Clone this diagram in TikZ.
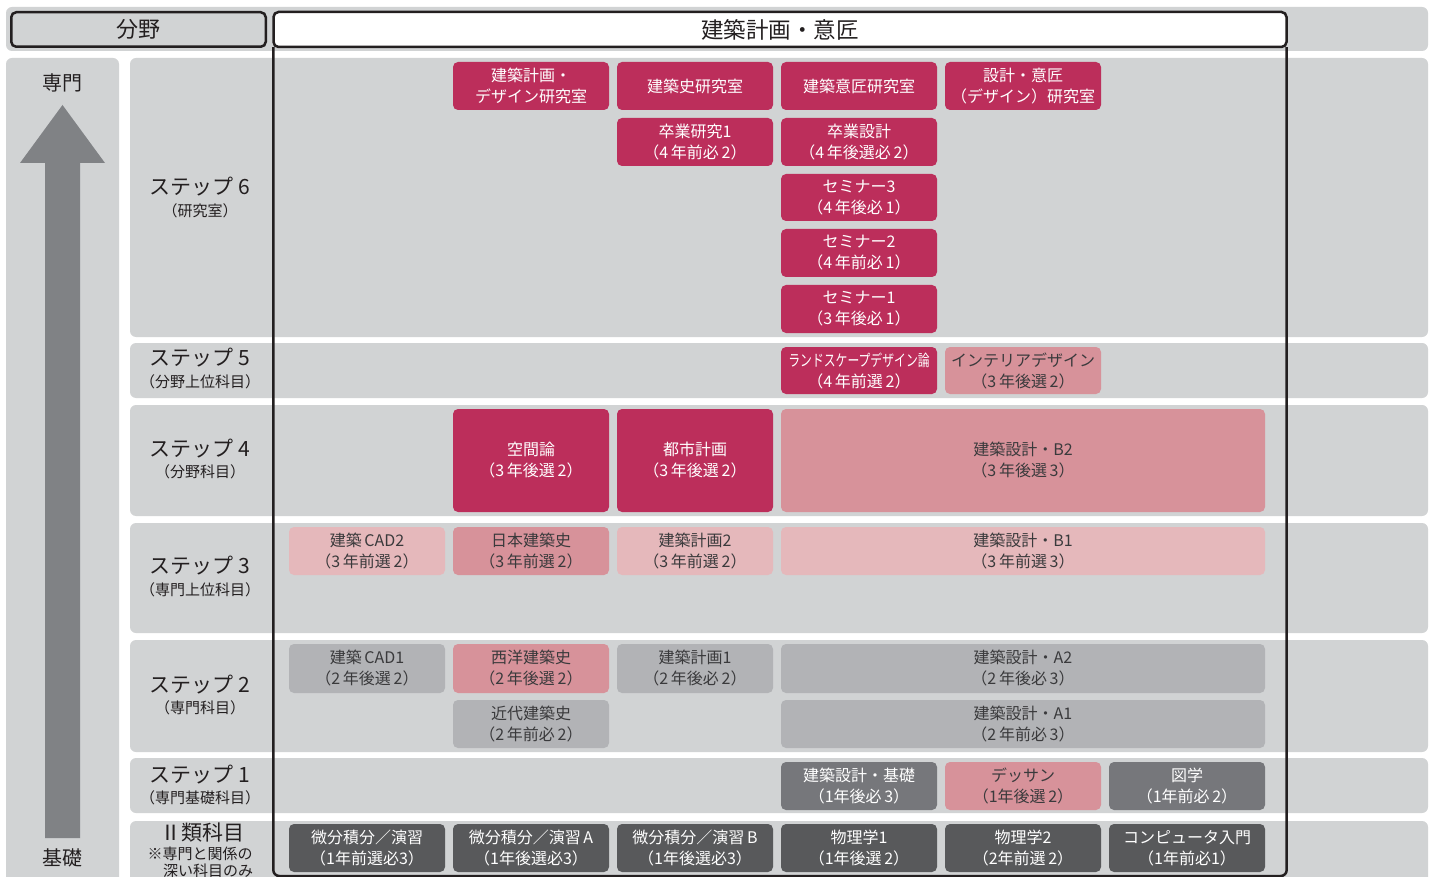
\documentclass[tikz,border=0pt]{standalone}
\usepackage{fontspec}
\setmainfont{Noto Sans CJK JP}
\usepackage{graphicx}
\definecolor{bg}{HTML}{D1D3D4}
\definecolor{mag}{HTML}{BC2E5B}
\definecolor{pinkM}{HTML}{D7929A}
\definecolor{pinkL}{HTML}{E5B8BB}
\definecolor{grayM}{HTML}{B2B3B6}
\definecolor{grayD}{HTML}{76777B}
\definecolor{grayX}{HTML}{58595B}
\definecolor{arrowg}{HTML}{808285}
\definecolor{ink}{HTML}{231F20}
\definecolor{txt}{HTML}{3A3A3C}
\begin{document}
\begin{tikzpicture}[x=1pt,y=-1pt,
  cbox/.style={rounded corners=5pt, inner sep=0pt, align=center,
    font=\fontsize{16}{21}\selectfont, minimum width=156, minimum height=48},
  cmag/.style={cbox, fill=mag, text=white},
  cpm/.style={cbox, fill=pinkM, text=txt},
  cpl/.style={cbox, fill=pinkL, text=txt},
  cgm/.style={cbox, fill=grayM, text=txt},
  cgd/.style={cbox, fill=grayD, text=white},
  cgx/.style={cbox, fill=grayX, text=white},
  wide/.style={minimum width=484},
  steplbl/.style={inner sep=0pt, text=ink, font=\fontsize{21}{24}\selectfont},
  stepsub/.style={inner sep=0pt, text=ink, font=\fontsize{15}{18}\selectfont},
  rowbg/.style={fill=bg, rounded corners=6pt}
]
\clip (0,0) rectangle (1435,877);
\fill[white] (0,0) rectangle (1435,877);
% backgrounds
\fill[rowbg] (6,7) rectangle (1428,51);
\fill[rowbg] (6,58) rectangle (119,895);
\fill[rowbg] (130,58) rectangle (1428,337);
\fill[rowbg] (130,343) rectangle (1428,398);
\fill[rowbg] (130,405) rectangle (1428,516);
\fill[rowbg] (130,523) rectangle (1428,633);
\fill[rowbg] (130,640) rectangle (1428,752);
\fill[rowbg] (130,758) rectangle (1428,813);
\fill[rowbg] (130,821) rectangle (1428,895);
% arrow
\fill[arrowg] (45,838) -- (45,163) -- (20,163) -- (62.5,105) -- (105,163) -- (80,163) -- (80,838) -- cycle;
\node[inner sep=0pt, text=ink, font=\fontsize{20}{22}\selectfont] (senmon) at (62.5,83) {専門};
\node[inner sep=0pt, text=ink, font=\fontsize{20}{22}\selectfont] (kiso0) at (62.5,858) {基礎};
% headers
\coordinate (bot) at (0,876);
\node[draw=ink, line width=2.5pt, fill=bg, rounded corners=5pt, minimum width=254.5, minimum height=34.5, inner sep=0pt, text=ink, font=\fontsize{22}{24}\selectfont] (bunya) at (138.5,29.5) {分野};
\node[minimum width=1013, minimum height=35, inner sep=0pt] (hdrshape) at (780,29.5) {};
\draw[ink, line width=2.5pt, rounded corners=6pt] (hdrshape.south west) -- (hdrshape.south west |- bot) -- (hdrshape.south east |- bot) -- (hdrshape.south east);
\node[draw=ink, line width=2.5pt, fill=white, rounded corners=5pt, minimum width=1013, minimum height=35, inner sep=0pt, text=ink, font=\fontsize{22.5}{24}\selectfont] (hdr) at (780,29.5) {建築計画・意匠};
% step labels
\node[steplbl] (s6) at (200,187) {ステップ~6};
\node[stepsub] (s6b) at (200,211) {（研究室）};
\node[steplbl] (s5) at (200,358) {ステップ~5};
\node[stepsub] (s5b) at (200,382) {（分野上位科目）};
\node[steplbl] (s4) at (200,449) {ステップ~4};
\node[stepsub] (s4b) at (200,472) {（分野科目）};
\node[steplbl] (s3) at (200,566) {ステップ~3};
\node[stepsub] (s3b) at (200,590) {（専門上位科目）};
\node[steplbl] (s2) at (200,685) {ステップ~2};
\node[stepsub] (s2b) at (200,708) {（専門科目）};
\node[steplbl] (s1) at (200,775) {ステップ~1};
\node[stepsub] (s1b) at (200,798) {（専門基礎科目）};
\node[steplbl] (s0) at (202,833) {Ⅱ類科目};
\node[stepsub] (s0b) at (200,854) {※専門と関係の};
\node[stepsub] (s0c) at (208,871) {深い科目のみ};
% row 6
\node[cmag] (lab1) at (531,86) {建築計画・\\デザイン研究室};
\node[cmag] (lab2) at (695,86) {建築史研究室};
\node[cmag] (lab3) at (859,86) {建築意匠研究室};
\node[cmag] (lab4) at (1023,86) {設計・意匠\\（デザイン）研究室};
\node[cmag] (sk1) at (695,142) {卒業研究1\\（4\,年前必\,2）};
\node[cmag] (sk2) at (859,142) {卒業設計\\（4\,年後選必\,2）};
\node[cmag, minimum height=47] (sem3) at (859,197.5) {セミナー3\\（4\,年後必\,1）};
\node[cmag] (sem2) at (859,253) {セミナー2\\（4\,年前必\,1）};
\node[cmag] (sem1) at (859,309) {セミナー1\\（3\,年後必\,1）};
% row 5
\node[cmag, minimum height=47] (land) at (859,370.5) {\scalebox{0.74}[1]{ランドスケープデザイン論}\\（4\,年前選\,2）};
\node[cpm, minimum height=47] (inter) at (1023,370.5) {インテリアデザイン\\（3\,年後選\,2）};
% row 4
\node[cmag, minimum height=103] (kukan) at (531,460.5) {空間論\\（3\,年後選\,2）};
\node[cmag, minimum height=103] (toshi) at (695,460.5) {都市計画\\（3\,年後選\,2）};
\node[cpm, wide, minimum height=103] (b2) at (1023,460.5) {建築設計・B2\\（3\,年後選\,3）};
% row 3
\node[cpl] (cad2) at (367,551) {建築\,CAD2\\（3\,年前選\,2）};
\node[cpm] (nihon) at (531,551) {日本建築史\\（3\,年前選\,2）};
\node[cpl] (kei2) at (695,551) {建築計画2\\（3\,年前選\,2）};
\node[cpl, wide] (b1) at (1023,551) {建築設計・B1\\（3\,年前選\,3）};
% row 2
\node[cgm, minimum height=49] (cad1) at (367,668.5) {建築\,CAD1\\（2\,年後選\,2）};
\node[cpm, minimum height=49] (seiyo) at (531,668.5) {西洋建築史\\（2\,年後選\,2）};
\node[cgm, minimum height=49] (kei1) at (695,668.5) {建築計画1\\（2\,年後必\,2）};
\node[cgm, wide, minimum height=49] (a2) at (1023,668.5) {建築設計・A2\\（2\,年後必\,3）};
\node[cgm] (kindai) at (531,724) {近代建築史\\（2\,年前必\,2）};
\node[cgm, wide] (a1) at (1023,724) {建築設計・A1\\（2\,年前必\,3）};
% row 1
\node[cgd] (dkiso) at (859,786) {建築設計・基礎\\（1年後必\,3）};
\node[cpm] (dessan) at (1023,786) {デッサン\\（1年後選\,2）};
\node[cgd] (zugaku) at (1187,786) {図学\\（1年前必\,2）};
% row 0
\node[cgx] (bb1) at (367,848) {微分積分／演習\\（1年前選必3）};
\node[cgx] (bb2) at (531,848) {微分積分／演習\,A\\（1年後選必3）};
\node[cgx] (bb3) at (695,848) {微分積分／演習\,B\\（1年後選必3）};
\node[cgx] (phy1) at (859,848) {物理学1\\（1年後選\,2）};
\node[cgx] (phy2) at (1023,848) {物理学2\\（2年前選\,2）};
\node[cgx] (comp) at (1187,848) {コンピュータ入門\\（1年前必1）};
\end{tikzpicture}
\end{document}
